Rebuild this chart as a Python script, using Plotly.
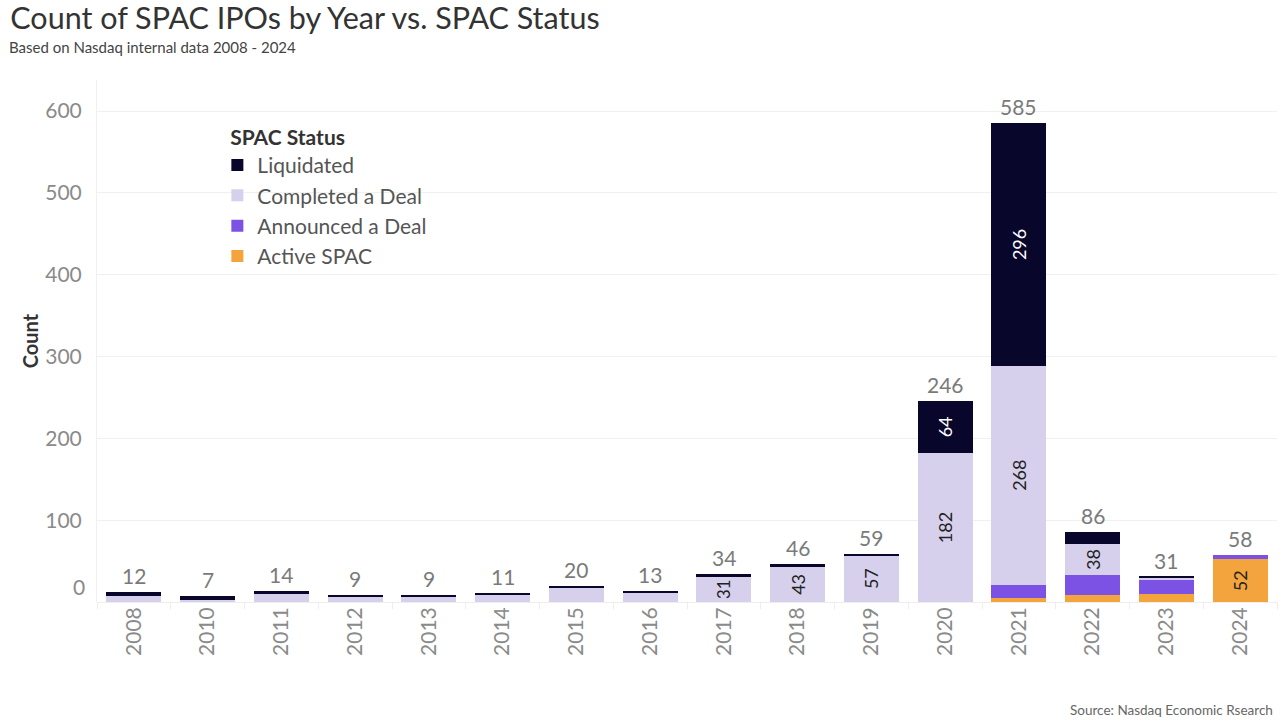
import plotly.graph_objects as go

years = ["2008", "2010", "2011", "2012", "2013", "2014", "2015", "2016",
         "2017", "2018", "2019", "2020", "2021", "2022", "2023", "2024"]
active = [0, 0, 0, 0, 0, 0, 0, 0, 0, 0, 0, 0, 5, 9, 10, 52]
announced = [0, 0, 0, 0, 0, 0, 0, 0, 0, 0, 0, 0, 16, 24, 17, 6]
completed = [7, 3, 10, 6, 6, 8, 18, 12, 31, 43, 57, 182, 268, 38, 3, 0]
liquidated = [5, 4, 4, 3, 3, 3, 2, 1, 3, 3, 2, 64, 296, 15, 1, 0]
y_ticks = [100, 200, 300, 400, 500, 600]

series = [
    ("Active SPAC", active, "#F4A43C", "#222222"),
    ("Announced a Deal", announced, "#7B52E3", "#FFFFFF"),
    ("Completed a Deal", completed, "#D7D0EC", "#222222"),
    ("Liquidated", liquidated, "#08062B", "#FFFFFF"),
]

FONT = "Lato"
fig = go.Figure()
for name, vals, color, tcolor in series:
    fig.add_trace(go.Bar(
        x=years, y=vals, name=name,
        marker=dict(color=color, line=dict(width=0)),
        text=[str(v) if v >= 25 else "" for v in vals],
        textposition="inside", insidetextanchor="middle",
        textangle=-90,
        textfont=dict(family=FONT, size=18, color=tcolor),
        hoverinfo="x+y+name",
    ))

totals = [a + b + c + d for a, b, c, d in zip(active, announced, completed, liquidated)]
annotations = []
for i, t in enumerate(totals):
    annotations.append(dict(
        x=i, y=t, xref="x", yref="y", text=str(t), showarrow=False,
        yanchor="bottom", yshift=2,
        font=dict(family=FONT, size=21, color="#7a7a7a"),
    ))
# zero tick label (raised above baseline)
annotations.append(dict(
    x=0, y=0, xref="paper", yref="y", text="0", showarrow=False,
    xanchor="right", yanchor="middle", xshift=-10, yshift=16,
    font=dict(family=FONT, size=21, color="#8a8a8a"),
))
annotations.append(dict(
    x=1, y=0, xref="paper", yref="paper", text="Source: Nasdaq Economic Rsearch",
    showarrow=False, xanchor="right", yanchor="bottom", yshift=-118, xshift=-2,
    font=dict(family=FONT, size=13.5, color="#666666"),
))
annotations.append(dict(
    x=0, y=1, xref="paper", yref="paper", text="Based on Nasdaq internal data 2008 - 2024",
    showarrow=False, xanchor="left", yanchor="middle", xshift=-90, yshift=33,
    font=dict(family=FONT, size=15, color="#444444"),
))

fig.update_layout(
    width=1286, height=722,
    margin=dict(l=97, r=9, t=80, b=120),
    barmode="stack", bargap=0.255,
    plot_bgcolor="white", paper_bgcolor="white",
    font=dict(family=FONT, color="#333333"),
    title=dict(text="Count of SPAC IPOs by Year vs. SPAC Status",
               x=0.008, xanchor="left", y=0.975, yanchor="middle",
               font=dict(family=FONT, size=30.5, color="#333333")),
    showlegend=True,
    legend=dict(
        title=dict(text="&nbsp;&nbsp;<b>SPAC Status</b>", font=dict(family=FONT, size=21, color="#333333")),
        traceorder="reversed",
        x=0.102, y=0.928, xanchor="left", yanchor="top",
        bgcolor="rgba(255,255,255,0)",
        font=dict(family=FONT, size=21, color="#555555"),
        itemclick=False,
    ),
    annotations=annotations,
    xaxis=dict(
        type="category", tickangle=-90,
        tickfont=dict(family=FONT, size=21, color="#8a8a8a"),
        showgrid=False, ticks="outside", tickson="boundaries", ticklen=6,
        tickcolor="#eeeeee", showline=False,
    ),
    yaxis=dict(
        range=[0, 638], tickvals=y_ticks, ticktext=[str(v) for v in y_ticks],
        tickfont=dict(family=FONT, size=21, color="#8a8a8a"),
        showgrid=True, gridcolor="#f0f0f0", gridwidth=1,
        zeroline=True, zerolinecolor="#eeeeee", zerolinewidth=1,
        showline=True, linecolor="#f0f0f0", ticks="", ticklabelstandoff=10,
        title=dict(text="<b>Count</b>", font=dict(family=FONT, size=20, color="#333333"),
                   standoff=1),
    ),
)

fig.write_html("out.html")
